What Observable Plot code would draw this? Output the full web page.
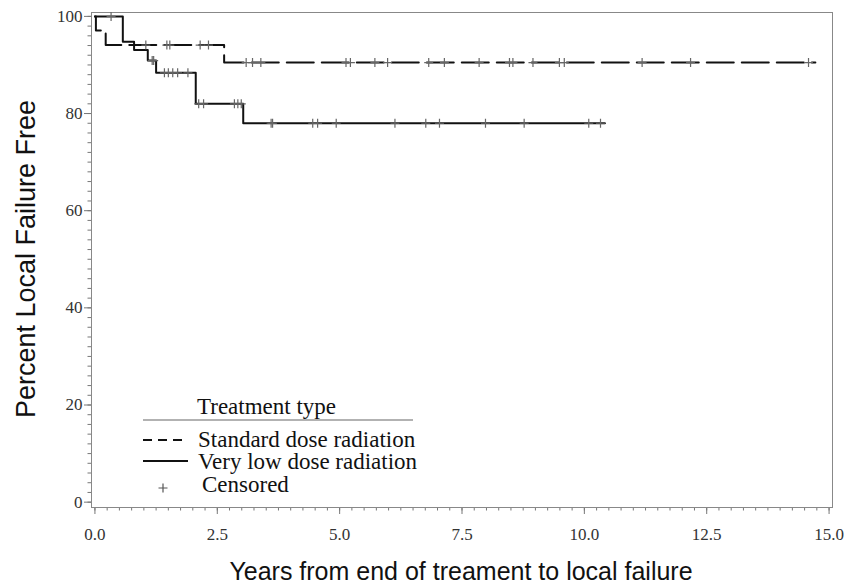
<!DOCTYPE html>
<html><head><meta charset="utf-8">
<script src="https://cdn.jsdelivr.net/npm/d3@7"></script>
<script src="https://cdn.jsdelivr.net/npm/@observablehq/plot@0.6"></script>
<style>body{margin:0;background:#fff}</style>
</head><body><div id="chart"></div>
<script>
// Standard dose radiation (dashed) step curve
const stdTimes = [0, 0.02, 0.22, 2.64, 14.72];
const stdSurv  = [100, 97.1, 94.1, 90.5, 90.5];
const stdCensored = [1.04, 1.47, 1.53, 2.15, 2.32, 3.09, 3.22, 3.39, 5.13, 5.22, 5.72, 5.98, 6.82, 7.14, 7.85, 8.47, 8.54, 8.95, 9.49, 9.59, 11.18, 12.17, 14.58];
// Very low dose radiation (solid) step curve
const lowTimes = [0, 0.57, 0.80, 1.08, 1.25, 2.06, 3.03, 10.42];
const lowSurv  = [100, 94.8, 93.1, 90.9, 88.4, 82.0, 78.0, 78.0];
const lowCensored = [0.33, 1.17, 1.20, 1.42, 1.50, 1.59, 1.69, 1.90, 2.12, 2.22, 2.85, 2.92, 2.99, 3.60, 3.63, 4.45, 4.55, 4.93, 6.13, 6.76, 7.04, 7.98, 8.77, 10.09, 10.33];

const xTicks = [0, 2.5, 5, 7.5, 10, 12.5, 15];
const yTicks = [0, 20, 40, 60, 80, 100];
const xTitle = "Years from end of treament to local failure";
const yTitle = "Percent Local Failure Free";
const legendTitle = "Treatment type";
const legendLabels = ["Standard dose radiation", "Very low dose radiation", "Censored"];

const xMinor = d3.range(0, 15.001, 0.25);
const yMinor = d3.range(0, 100.001, 2);

function survAt(times, surv, t) {
  let s = surv[0];
  for (let i = 0; i < times.length; i++) if (times[i] <= t) s = surv[i];
  return s;
}
const stdLine = stdTimes.map((t, i) => ({t, s: stdSurv[i]}));
const lowLine = lowTimes.map((t, i) => ({t, s: lowSurv[i]}));
const stdMarks = stdCensored.map(t => ({t, s: survAt(stdTimes, stdSurv, t)}));
const lowMarks = lowCensored.map(t => ({t, s: survAt(lowTimes, lowSurv, t)}));

const thinPlus = {draw(ctx, size) {
  const r = Math.sqrt(size / Math.PI);
  ctx.moveTo(-r, 0); ctx.lineTo(r, 0);
  ctx.moveTo(0, -r); ctx.lineTo(0, r);
}};

const chart = Plot.plot({
  width: 847, height: 586,
  marginLeft: 91, marginRight: 15, marginTop: 12, marginBottom: 79,
  x: {domain: [-0.07, 15.07]},
  y: {domain: [-1.1, 100.8]},
  style: {fontFamily: "'Liberation Serif', serif", fontSize: "17px", background: "#fff"},
  marks: [
    Plot.axisX({ticks: xMinor, tickSize: 3.5, tickFormat: () => "", stroke: "#777", label: null}),
    Plot.axisX({ticks: xTicks, tickSize: 7, tickPadding: 13, tickFormat: d3.format(".1f"), fill: "#333", stroke: "#777", label: null}),
    Plot.axisY({ticks: yMinor, tickSize: 3.5, tickFormat: () => "", stroke: "#777", label: null}),
    Plot.axisY({ticks: yTicks, tickSize: 7, tickPadding: 2, fill: "#333", stroke: "#777", label: null}),
    Plot.frame({stroke: "#888"}),
    Plot.line(stdLine, {x: "t", y: "s", curve: "step-after", stroke: "#111", strokeWidth: 2, strokeDasharray: "27,8", strokeDashoffset: 7}),
    Plot.line(lowLine, {x: "t", y: "s", curve: "step-after", stroke: "#111", strokeWidth: 2}),
    Plot.dot(stdMarks, {x: "t", y: "s", symbol: thinPlus, r: 4.5, stroke: "#666", strokeWidth: 1.2, fill: "none"}),
    Plot.dot(lowMarks, {x: "t", y: "s", symbol: thinPlus, r: 4.5, stroke: "#666", strokeWidth: 1.2, fill: "none"})
  ]
});

const svg = d3.select(chart);
svg.selectAll("text")
  .style("font-family", "'Liberation Serif', 'Times New Roman', serif")
  .style("font-size", "17px");

svg.append("text").attr("x", 461).attr("y", 580).attr("text-anchor", "middle")
  .attr("font-family", "'Liberation Sans', Arial, sans-serif").attr("font-size", 25).attr("fill", "#111").text(xTitle);
svg.append("text").attr("transform", "translate(35,259) rotate(-90)").attr("text-anchor", "middle")
  .attr("font-family", "'Liberation Sans', Arial, sans-serif").attr("font-size", 27).attr("fill", "#111").text(yTitle);

const lg = svg.append("g").attr("font-family", "'Liberation Serif', serif").attr("font-size", 23)
  .attr("fill", "#111").attr("text-anchor", "start");
lg.append("text").attr("x", 197).attr("y", 413.5).text(legendTitle);
lg.append("line").attr("x1", 143).attr("x2", 413).attr("y1", 420).attr("y2", 420).attr("stroke", "#999").attr("stroke-width", 1.5);
lg.append("line").attr("x1", 143).attr("x2", 185).attr("y1", 440).attr("y2", 440).attr("stroke", "#111").attr("stroke-width", 2).attr("stroke-dasharray", "9,6");
lg.append("text").attr("x", 198).attr("y", 447).text(legendLabels[0]);
lg.append("line").attr("x1", 143).attr("x2", 188).attr("y1", 461).attr("y2", 461).attr("stroke", "#111").attr("stroke-width", 2);
lg.append("text").attr("x", 198).attr("y", 469).text(legendLabels[1]);
lg.append("path").attr("d", "M158.5,488H167.5M163,483.5V492.5").attr("stroke", "#555").attr("stroke-width", 1.2);
lg.append("text").attr("x", 202).attr("y", 492).text(legendLabels[2]);

document.getElementById("chart").appendChild(chart);
</script>
</body></html>
